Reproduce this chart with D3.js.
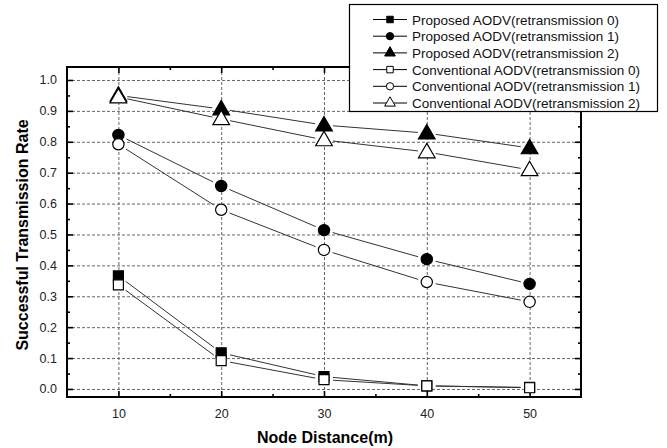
<!DOCTYPE html>
<html>
<head>
<meta charset="utf-8">
<script src="https://cdn.jsdelivr.net/npm/d3@7"></script>
<style>
  body { margin: 0; background: #fff; }
  svg { display: block; font-family: "Liberation Sans", Arial, sans-serif; }
</style>
</head>
<body>
<div id="chart"></div>
<script>
var distances = [10, 20, 30, 40, 50];
var proposed0 = [0.366, 0.117, 0.040, 0.010, 0.005];
var proposed1 = [0.822, 0.657, 0.514, 0.420, 0.340];
var proposed2 = [0.950, 0.906, 0.854, 0.828, 0.780];
var conventional0 = [0.337, 0.092, 0.030, 0.010, 0.004];
var conventional1 = [0.792, 0.580, 0.450, 0.346, 0.282];
var conventional2 = [0.945, 0.874, 0.806, 0.767, 0.709];
var yTicks = [0.0, 0.1, 0.2, 0.3, 0.4, 0.5, 0.6, 0.7, 0.8, 0.9, 1.0];

var series = [
  { name: "Proposed AODV(retransmission 0)", values: proposed0, shape: "square", filled: true },
  { name: "Proposed AODV(retransmission 1)", values: proposed1, shape: "circle", filled: true },
  { name: "Proposed AODV(retransmission 2)", values: proposed2, shape: "triangle", filled: true },
  { name: "Conventional AODV(retransmission 0)", values: conventional0, shape: "square", filled: false },
  { name: "Conventional AODV(retransmission 1)", values: conventional1, shape: "circle", filled: false },
  { name: "Conventional AODV(retransmission 2)", values: conventional2, shape: "triangle", filled: false }
];

var W = 667, H = 448;
var margin = { top: 67, left: 67, right: 86, bottom: 51 },
  width = W - margin.left - margin.right,
  height = H - margin.top - margin.bottom;

var svg = d3.select("#chart").append("svg")
  .attr("width", W)
  .attr("height", H);

var g = svg.append("g")
  .attr("transform", "translate(" + margin.left + "," + margin.top + ")");

var x = d3.scaleLinear().domain([5, 55]).range([0, width]);
var y = d3.scaleLinear().domain([-0.026, 1.042]).range([height, 0]);

// grid
g.selectAll(".hgrid").data(yTicks).enter().append("line")
  .attr("x1", 0).attr("x2", width)
  .attr("y1", function(d) { return y(d) + 0.5 }).attr("y2", function(d) { return y(d) + 0.5 })
  .attr("stroke", "#666").attr("stroke-width", 1).attr("stroke-dasharray", "3,2");
g.selectAll(".vgrid").data(distances).enter().append("line")
  .attr("y1", 0).attr("y2", height)
  .attr("x1", function(d) { return x(d) + 0.5 }).attr("x2", function(d) { return x(d) + 0.5 })
  .attr("stroke", "#666").attr("stroke-width", 1).attr("stroke-dasharray", "3,2");

// axes with inward ticks
var yMinor = d3.range(0.05, 1.0, 0.1);
var xMinor = [15, 25, 35, 45];

g.append("g").attr("class", "axis")
  .call(d3.axisLeft(y).tickValues(yTicks).tickSize(-6).tickPadding(10).tickFormat(d3.format(".1f")));
g.append("g").attr("class", "axis").call(d3.axisLeft(y).tickValues(yMinor).tickSize(-3).tickFormat(""));
g.append("g").attr("class", "axis").attr("transform", "translate(" + width + ",0)")
  .call(d3.axisRight(y).tickValues(yTicks).tickSize(-6).tickFormat(""));
g.append("g").attr("class", "axis").attr("transform", "translate(" + width + ",0)")
  .call(d3.axisRight(y).tickValues(yMinor).tickSize(-3).tickFormat(""));

g.append("g").attr("class", "axis").attr("transform", "translate(0," + height + ")")
  .call(d3.axisBottom(x).tickValues(distances).tickSize(-6).tickPadding(12));
g.append("g").attr("class", "axis").attr("transform", "translate(0," + height + ")")
  .call(d3.axisBottom(x).tickValues(xMinor).tickSize(-3).tickFormat(""));
g.append("g").attr("class", "axis")
  .call(d3.axisTop(x).tickValues(distances).tickSize(-6).tickFormat(""));
g.append("g").attr("class", "axis")
  .call(d3.axisTop(x).tickValues(xMinor).tickSize(-3).tickFormat(""));

g.selectAll(".axis .domain").remove();
g.selectAll(".axis line").attr("stroke", "#000").attr("stroke-width", 1.6);
g.selectAll(".axis text").attr("font-size", 12.5).attr("fill", "#222")
  .attr("font-family", "'Liberation Sans', Arial, sans-serif");

// frame
g.append("rect").attr("x", 0).attr("y", 0).attr("width", width).attr("height", height)
  .attr("fill", "none").attr("stroke", "#000").attr("stroke-width", 2);

// axis titles
svg.append("text")
  .attr("x", margin.left + width / 2 + 1).attr("y", 443)
  .attr("text-anchor", "middle").attr("font-size", 16).attr("font-weight", "bold")
  .text("Node Distance(m)");
svg.append("text")
  .attr("transform", "translate(28," + (margin.top + height / 2 + 3) + ") rotate(-90)")
  .attr("text-anchor", "middle").attr("font-size", 16).attr("font-weight", "bold")
  .text("Successful Transmission Rate");

var symbolSize = { square: 100, circle: 100, triangle: 120 };
function symbolPath(shape) {
  var t = shape === "square" ? d3.symbolSquare : shape === "circle" ? d3.symbolCircle : d3.symbolTriangle;
  return d3.symbol().type(t).size(symbolSize[shape])();
}

// connecting lines with gaps near the markers
var gap = 9;
series.forEach(function(s) {
  var pts = distances.map(function(d, i) { return [x(d), y(s.values[i])] });
  for (var i = 0; i < pts.length - 1; i++) {
    var a = pts[i], b = pts[i + 1];
    var dx = b[0] - a[0], dy = b[1] - a[1], len = Math.sqrt(dx * dx + dy * dy);
    if (len <= gap * 2) continue;
    var ux = dx / len, uy = dy / len;
    g.append("line")
      .attr("x1", a[0] + ux * gap).attr("y1", a[1] + uy * gap)
      .attr("x2", b[0] - ux * gap).attr("y2", b[1] - uy * gap)
      .attr("stroke", "#333").attr("stroke-width", 1);
  }
});

// markers
series.forEach(function(s) {
  g.selectAll(null).data(s.values).enter().append("path")
    .attr("d", symbolPath(s.shape))
    .attr("transform", function(d, i) {
      var dy = s.shape === "triangle" ? 1 : 0;
      return "translate(" + x(distances[i]) + "," + (y(d) + dy) + ")";
    })
    .attr("fill", s.filled ? "#000" : "#fff")
    .attr("stroke", "#000").attr("stroke-width", 1.2);
});

// legend
var legend = svg.append("g").attr("transform", "translate(349,4)");
legend.append("rect").attr("x", 0.5).attr("y", 0.5).attr("width", 308).attr("height", 107)
  .attr("fill", "#fff").attr("stroke", "#000").attr("stroke-width", 1.2);
var rows = legend.selectAll(".row").data(series).enter().append("g")
  .attr("transform", function(d, i) { return "translate(0," + (15.5 + i * 16.7) + ")" });
rows.append("line").attr("x1", 24).attr("x2", 58).attr("y1", 0).attr("y2", 0)
  .attr("stroke", "#000").attr("stroke-width", 1);
rows.append("path")
  .attr("d", function(d) {
    var t = d.shape === "square" ? d3.symbolSquare : d.shape === "circle" ? d3.symbolCircle : d3.symbolTriangle;
    return d3.symbol().type(t).size(d.shape === "triangle" ? 50 : 42)();
  })
  .attr("transform", "translate(41,0)")
  .attr("fill", function(d) { return d.filled ? "#000" : "#fff" })
  .attr("stroke", "#000").attr("stroke-width", 1);
rows.append("text").attr("x", 63).attr("y", 5)
  .attr("font-size", 13.5).attr("fill", "#111")
  .text(function(d) { return d.name });
</script>
</body>
</html>
